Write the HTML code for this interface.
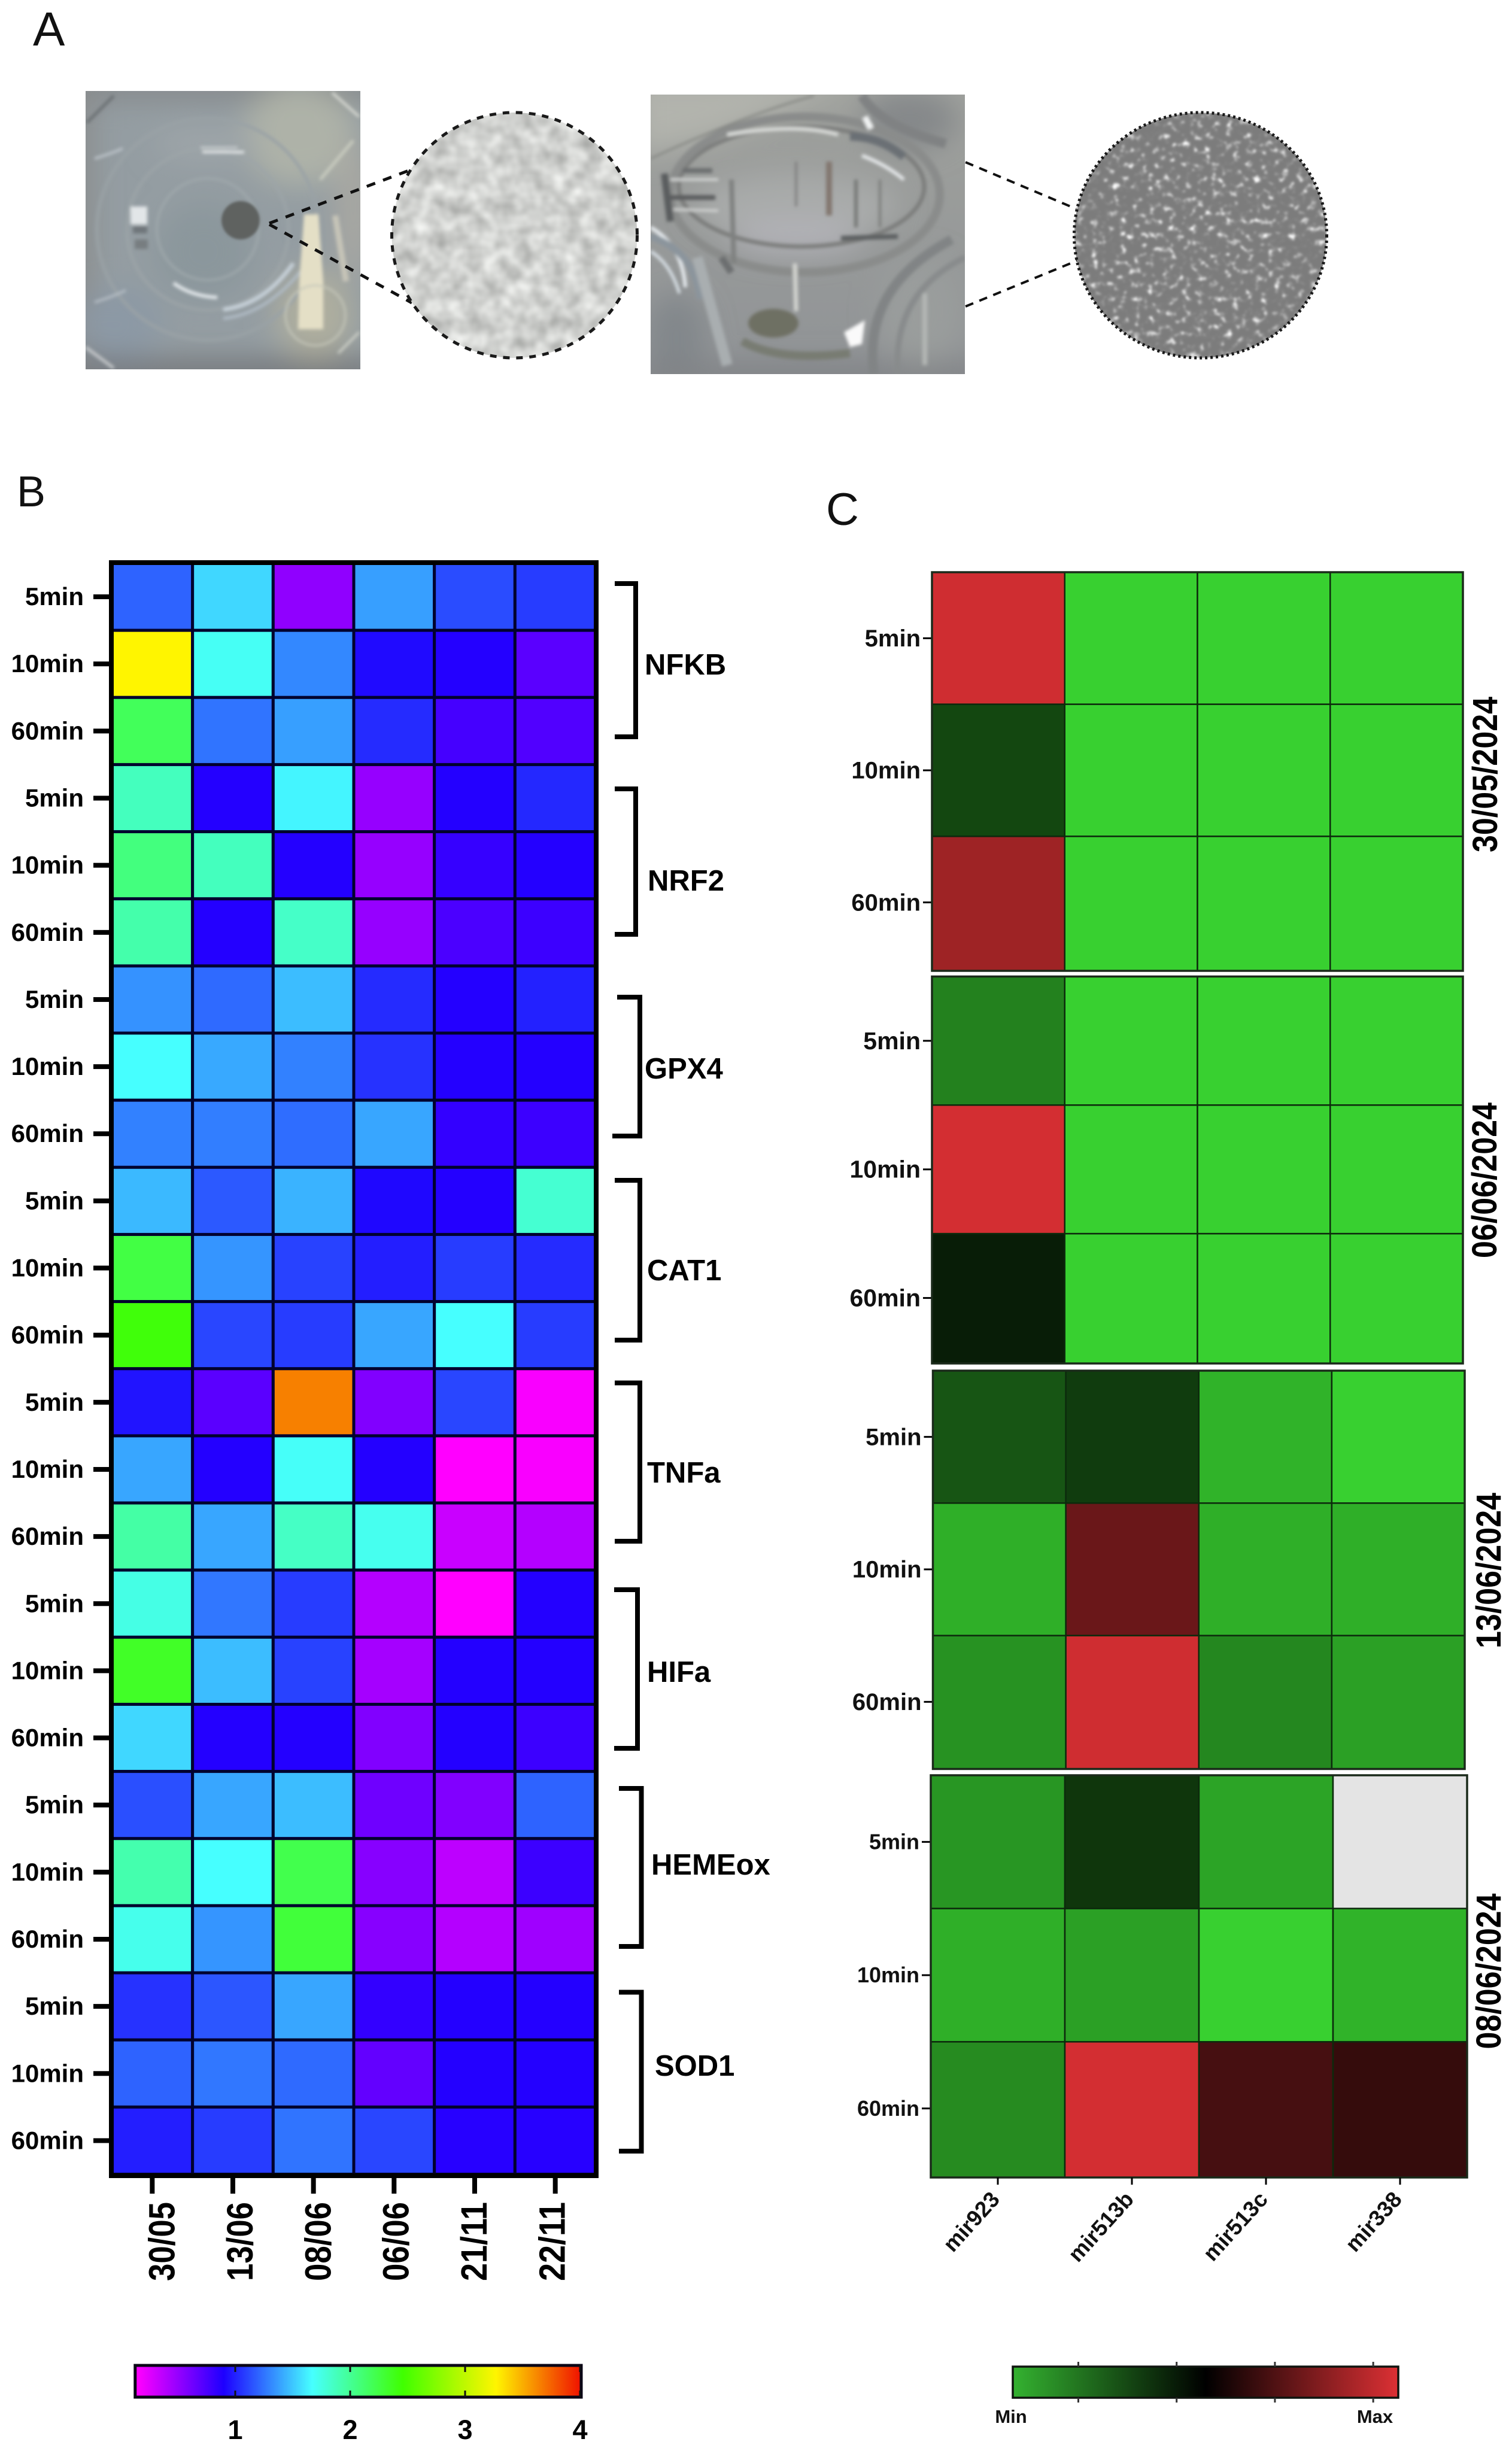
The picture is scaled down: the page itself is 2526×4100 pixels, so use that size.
<!DOCTYPE html>
<html lang="en">
<head>
<meta charset="utf-8">
<title>Panels A, B and C heatmaps</title>
<style>
html,body{margin:0;padding:0;background:#fff;}
body{width:2526px;height:4100px;overflow:hidden;}
svg{display:block;font-family:"Liberation Sans",sans-serif;}
</style>
</head>
<body>
<svg id="figure" xmlns="http://www.w3.org/2000/svg" width="2526" height="4100" viewBox="0 0 2526 4100">
<defs>
<filter id="blur25" x="-40%" y="-40%" width="180%" height="180%"><feGaussianBlur stdDeviation="24"/></filter>
<filter id="blur3" x="-10%" y="-10%" width="120%" height="120%"><feGaussianBlur stdDeviation="3"/></filter>
<filter id="blur2" x="-20%" y="-20%" width="140%" height="140%"><feGaussianBlur stdDeviation="2"/></filter>
<filter id="tex-light" x="0" y="0" width="100%" height="100%" color-interpolation-filters="sRGB">
<feTurbulence type="fractalNoise" baseFrequency="0.036" numOctaves="2" seed="7"/>
<feColorMatrix type="matrix" values="0.36 0 0 0 0.635  0.36 0 0 0 0.64  0.36 0 0 0 0.63  0 0 0 0 1"/>
<feComposite in2="SourceGraphic" operator="in"/>
</filter>
<filter id="tex-cells" x="0" y="0" width="100%" height="100%" color-interpolation-filters="sRGB">
<feTurbulence type="fractalNoise" baseFrequency="0.085" numOctaves="2" seed="11"/>
<feColorMatrix type="matrix" values="1 0 0 0 0  1 0 0 0 0  1 0 0 0 0  0 0 0 0 1"/>
<feComponentTransfer>
<feFuncR type="table" tableValues=".49 .49 .49 .49 .49 .49 .49 .5 .56 .7 .86 1 1 1"/>
<feFuncG type="table" tableValues=".49 .49 .49 .49 .49 .49 .49 .5 .56 .7 .86 1 1 1"/>
<feFuncB type="table" tableValues=".49 .49 .49 .49 .49 .49 .49 .5 .56 .7 .86 1 1 1"/>
</feComponentTransfer>
<feGaussianBlur stdDeviation="1.8"/>
<feComposite in2="SourceGraphic" operator="in"/>
</filter>
<clipPath id="clip-photo-1"><rect x="143" y="152" width="459" height="465"/></clipPath>
<clipPath id="clip-photo-2"><rect x="1087" y="158" width="525" height="467"/></clipPath>
<linearGradient id="photo2-base" x1="0" y1="0" x2="0" y2="1"><stop offset="0" stop-color="#9fa19d"/><stop offset="1" stop-color="#909396"/></linearGradient>
</defs>

<text x="55" y="76" font-size="80" fill="#111">A</text>
<text x="28" y="846" font-size="72" fill="#111">B</text>
<text x="1380" y="877" font-size="76" fill="#111">C</text>

<g clip-path="url(#clip-photo-1)">
<rect x="143" y="152" width="459" height="465" fill="#949da2"/>
<g filter="url(#blur25)">
<rect x="100" y="120" width="540" height="45" fill="#85888a"/>
<rect x="110" y="152" width="45" height="465" fill="#8a8c8c"/>
<rect x="100" y="600" width="540" height="50" fill="#74777a"/>
<ellipse cx="500" cy="225" rx="95" ry="85" fill="#aeb2a8"/>
<ellipse cx="590" cy="350" rx="30" ry="120" fill="#a9a8a2"/>
<ellipse cx="200" cy="540" rx="70" ry="60" fill="#8c99a5"/>
<ellipse cx="345" cy="240" rx="90" ry="30" fill="#9ea5a9"/>
<ellipse cx="525" cy="525" rx="65" ry="75" fill="#aeae9f"/>
<circle cx="340" cy="420" r="80" fill="#8b979c"/>
</g>
<g filter="url(#blur3)" fill="none">
<circle cx="347" cy="383" r="85" stroke="#a2abae" stroke-width="3"/>
<circle cx="347" cy="383" r="135" stroke="#9da5a8" stroke-width="4"/>
<circle cx="347" cy="383" r="185" stroke="#9aa2a6" stroke-width="5"/>
<path d="M290 473 Q320 495 363 497" stroke="#e2e7ea" stroke-width="6"/>
<path d="M373 517 Q440 510 490 440" stroke="#c6d0d8" stroke-width="7"/>
<path d="M373 532 Q445 525 505 450" stroke="#b0bbc5" stroke-width="5"/>
<polygon points="508,358 532,358 540,470 540,550 498,550 500,470" fill="#e4dfc6"/>
<path d="M560 360 L578 470" stroke="#c6c4b8" stroke-width="10"/>
<circle cx="527" cy="527" r="50" stroke="#c6c8ba" stroke-width="3"/>
<rect x="218" y="345" width="28" height="30" fill="#e2e6e8"/>
<rect x="222" y="378" width="24" height="12" fill="#6f767a"/>
<rect x="225" y="400" width="22" height="16" fill="#777d80"/>
<rect x="338" y="252" width="70" height="4" fill="#e8ebec"/>
<rect x="335" y="245" width="62" height="3" fill="#cfd4d6"/>
<path d="M145 205 L190 160" stroke="#6b7073" stroke-width="5"/>
<path d="M555 155 L600 195" stroke="#dadcd5" stroke-width="4"/>
<path d="M143 580 L190 615" stroke="#c5c8ca" stroke-width="5"/>
<path d="M565 590 L600 555" stroke="#cdd0c8" stroke-width="4"/>
<path d="M535 300 L590 235" stroke="#c9ccc0" stroke-width="5"/>
<path d="M158 265 Q190 255 205 248" stroke="#bfc6cc" stroke-width="4"/>
<path d="M158 505 Q190 495 210 485" stroke="#b6bec5" stroke-width="4"/>
</g>
<circle cx="402" cy="368" r="32" fill="#5f6261" filter="url(#blur2)"/>
</g>

<g clip-path="url(#clip-photo-2)">
<rect x="1087" y="158" width="525" height="467" fill="url(#photo2-base)"/>
<g filter="url(#blur25)">
<polygon points="1060,130 1430,130 1200,230 1060,260" fill="#b2b4ad"/>
<ellipse cx="1330" cy="345" rx="170" ry="55" fill="#a9abaa"/>
<ellipse cx="1330" cy="395" rx="110" ry="28" fill="#b2b2b8"/>
<ellipse cx="1130" cy="560" rx="50" ry="70" fill="#82878b"/>
<ellipse cx="1540" cy="520" rx="70" ry="90" fill="#9a9d9c"/>
<ellipse cx="1520" cy="200" rx="80" ry="50" fill="#85888a"/>
<rect x="1060" y="610" width="580" height="40" fill="#7f8184"/>
</g>
<g filter="url(#blur3)" fill="none">
<ellipse cx="1339" cy="312" rx="205" ry="100" stroke="#7b7d7b" stroke-width="7"/>
<ellipse cx="1345" cy="325" rx="225" ry="130" stroke="#8a8c8b" stroke-width="14"/>
<path d="M1087 265 Q1250 190 1360 160" stroke="#838581" stroke-width="3"/>
<path d="M1215 225 Q1330 205 1400 225" stroke="#dcdedb" stroke-width="6"/>
<path d="M1420 228 Q1470 228 1510 262" stroke="#6a6f75" stroke-width="14"/>
<path d="M1440 260 Q1480 275 1510 300" stroke="#e6e9eb" stroke-width="6"/>
<path d="M1120 300 L1200 300" stroke="#d8dad9" stroke-width="4"/>
<path d="M1120 330 L1195 330" stroke="#5a5c5d" stroke-width="8"/>
<path d="M1125 350 L1200 352" stroke="#d5d7d6" stroke-width="4"/>
<path d="M1110 290 L1120 370" stroke="#5a5d5f" stroke-width="12"/>
<path d="M1140 285 L1190 285" stroke="#6b6d6e" stroke-width="8"/>
<path d="M1222 300 L1226 440" stroke="#7f8180" stroke-width="8"/>
<path d="M1330 270 L1330 345" stroke="#808080" stroke-width="4"/>
<path d="M1385 270 L1385 360" stroke="#827770" stroke-width="10"/>
<path d="M1430 300 L1430 380" stroke="#767876" stroke-width="6"/>
<path d="M1470 300 L1470 380" stroke="#808280" stroke-width="5"/>
<path d="M1405 398 L1500 395" stroke="#5c5f61" stroke-width="8"/>
<path d="M1087 380 Q1140 410 1145 480" stroke="#e8edf1" stroke-width="6"/>
<path d="M1087 420 Q1120 440 1135 490" stroke="#dae2e8" stroke-width="5"/>
<path d="M1087 395 Q1160 420 1170 500" stroke="#8b949c" stroke-width="12"/>
<path d="M1165 430 L1215 610" stroke="#a9aeb0" stroke-width="18"/>
<path d="M1205 430 L1222 455" stroke="#6c6e6f" stroke-width="12"/>
<path d="M1328 440 L1330 520" stroke="#d4d6d1" stroke-width="7"/>
<path d="M1460 625 Q1440 480 1590 400" stroke="#818485" stroke-width="16"/>
<path d="M1500 625 Q1490 490 1612 430" stroke="#888b8c" stroke-width="10"/>
<path d="M1545 610 L1545 490" stroke="#b4b7b5" stroke-width="8"/>
<path d="M1440 160 Q1470 210 1580 240" stroke="#808283" stroke-width="16"/>
<path d="M1445 195 L1455 215" stroke="#f2f4f4" stroke-width="10"/>
<polygon points="1410,555 1445,535 1440,575 1420,580" fill="#fafafa"/>
<path d="M1240 570 Q1300 605 1420 590" stroke="#787b72" stroke-width="14"/>
<ellipse cx="1292" cy="540" rx="42" ry="24" fill="#6e7064"/>
</g>
</g>

<line x1="450" y1="373" x2="688" y2="283" stroke="#111" stroke-width="5" stroke-dasharray="15 14"/>
<line x1="450" y1="375" x2="688" y2="506" stroke="#111" stroke-width="5" stroke-dasharray="15 14"/>
<line x1="1613" y1="271" x2="1798" y2="349" stroke="#111" stroke-width="4" stroke-dasharray="14 11"/>
<line x1="1613" y1="512" x2="1803" y2="434" stroke="#111" stroke-width="4" stroke-dasharray="14 11"/>

<g>
<circle cx="859.5" cy="393" r="205" fill="#000" filter="url(#tex-light)"/>
<circle cx="859.5" cy="393" r="205" fill="none" stroke="#1a1a1a" stroke-width="5" stroke-dasharray="11 11"/>
</g>
<g>
<ellipse cx="2005.5" cy="393" rx="211" ry="205" fill="#000" filter="url(#tex-cells)"/>
<ellipse cx="2005.5" cy="393" rx="211" ry="205" fill="none" stroke="#1a1a1a" stroke-width="5" stroke-dasharray="4 5"/>
</g>

<g id="panel-b"></g>
<g id="panel-b-frame-layer"></g>

<g fill="none" stroke="#000" stroke-width="8" font-weight="bold">
<path d="M1027 975 H1062 V1231 H1027"/>
<path d="M1027 1318 H1062 V1561 H1027"/>
<path d="M1031 1666 H1069 V1898 H1023"/>
<path d="M1027 1972 H1069 V2239 H1027"/>
<path d="M1027 2310.5 H1069 V2575 H1027"/>
<path d="M1026 2656 H1065 V2921 H1026"/>
<path d="M1034 2988 H1071.5 V3252 H1034"/>
<path d="M1034 3328.5 H1071.5 V3594 H1034"/>
</g>
<g font-size="49" font-weight="bold" fill="#000">
<text x="1077" y="1127">NFKB</text>
<text x="1082" y="1488">NRF2</text>
<text x="1077" y="1802">GPX4</text>
<text x="1081" y="2139">CAT1</text>
<text x="1081" y="2477">TNFa</text>
<text x="1081" y="2810">HIFa</text>
<text x="1088" y="3132">HEMEox</text>
<text x="1094" y="3468">SOD1</text>
</g>

<g id="panel-b-colorbar"></g>
<g id="panel-c"></g>
<g id="panel-c-colorbar"></g>
</svg>

<script>
// ---- Panel B data ----
const timeLabels = ['5min', '10min', '60min'];
const dateLabels = ['30/05', '13/06', '08/06', '06/06', '21/11', '22/11'];
const nfkbValues = [[1.20, 1.55, 0.52, 1.38, 1.13, 1.08], [3.27, 1.70, 1.31, 0.93, 0.88, 0.70], [2.18, 1.25, 1.38, 1.03, 0.77, 0.73]];
const nrf2Values = [[1.87, 0.88, 1.64, 0.50, 0.88, 1.02], [2.07, 1.87, 0.88, 0.50, 0.82, 0.88], [1.93, 0.88, 1.84, 0.50, 0.75, 0.80]];
const gpx4Values = [[1.34, 1.22, 1.47, 1.03, 0.88, 1.00], [1.67, 1.41, 1.29, 1.05, 0.88, 0.88], [1.29, 1.28, 1.23, 1.40, 0.83, 0.80]];
const cat1Values = [[1.46, 1.17, 1.44, 0.92, 0.88, 1.81], [2.25, 1.35, 1.10, 0.99, 1.08, 1.03], [2.43, 1.11, 1.08, 1.40, 1.67, 1.08]];
const tnfaValues = [[0.96, 0.70, 3.65, 0.57, 1.11, 0.17], [1.40, 0.88, 1.69, 0.88, 0.15, 0.17], [1.95, 1.40, 1.85, 1.72, 0.33, 0.40]];
const hifaValues = [[1.75, 1.26, 1.08, 0.40, 0.15, 0.88], [2.34, 1.47, 1.10, 0.45, 0.88, 0.88], [1.55, 0.88, 0.88, 0.57, 0.88, 0.80]];
const hemeoxValues = [[1.14, 1.40, 1.47, 0.63, 0.57, 1.20], [1.92, 1.67, 2.22, 0.55, 0.37, 0.80], [1.73, 1.35, 2.28, 0.55, 0.40, 0.47]];
const sod1Values = [[1.05, 1.16, 1.40, 0.83, 0.88, 0.88], [1.20, 1.26, 1.22, 0.67, 0.88, 0.88], [0.99, 1.08, 1.25, 1.11, 0.87, 0.87]];
const foldChangeTicks = [1, 2, 3, 4];

// ---- Panel C data ----
const mirLabels = ['mir923', 'mir513b', 'mir513c', 'mir338'];
const experiment3005Values = [[0.97, 0, 0, 0], [0.33, 0, 0, 0], [0.86, 0, 0, 0]];
const experiment0606Values = [[0.19, 0, 0, 0], [0.98, 0, 0, 0], [0.43, 0, 0, 0]];
const experiment1306Values = [[0.295, 0.355, 0.07, 0], [0.08, 0.74, 0.08, 0.08], [0.15, 0.97, 0.175, 0.115]];
const experiment0806Values = [[0.14, 0.37, 0.105, null], [0.08, 0.115, 0, 0.07], [0.165, 0.98, 0.66, 0.62]];

const NS = 'http://www.w3.org/2000/svg';
function mk(parent, tag, attrs, text) {
  const el = document.createElementNS(NS, tag);
  for (const k in attrs) el.setAttribute(k, attrs[k]);
  if (text !== undefined) el.textContent = text;
  parent.appendChild(el);
  return el;
}
function ramp(stops, v) {
  if (v <= stops[0][0]) return 'rgb(' + stops[0].slice(1).join(',') + ')';
  for (let i = 1; i < stops.length; i++) {
    if (v <= stops[i][0]) {
      const a = stops[i - 1], b = stops[i], t = (v - a[0]) / (b[0] - a[0]);
      return 'rgb(' + [1, 2, 3].map(function (c) { return Math.round(a[c] + (b[c] - a[c]) * t); }).join(',') + ')';
    }
  }
  return 'rgb(' + stops[stops.length - 1].slice(1).join(',') + ')';
}
const rainbowScale = [[0.15, 255, 0, 255], [0.9, 30, 0, 255], [1.67, 70, 255, 255], [2.46, 64, 255, 0], [3.27, 255, 245, 0], [4, 240, 20, 0]];
const greenRedScale = [[0, 56, 208, 48], [0.5, 0, 0, 0], [1, 220, 48, 52]];

// ---- Panel B heatmap ----
const panelB = document.getElementById('panel-b');
const geneMatrices = [nfkbValues, nrf2Values, gpx4Values, cat1Values, tnfaValues, hifaValues, hemeoxValues, sod1Values];
const bLeft = 187, bRight = 995, bTop = 941, bBottom = 3632.5;
const bRowCount = geneMatrices.length * timeLabels.length;
const bX = function (c) { return bLeft + c * (bRight - bLeft) / dateLabels.length; };
const bY = function (r) { return bTop + r * (bBottom - bTop) / bRowCount; };
const bDateLabelX = function (c) { return 291.5 + c * 130.4; };

geneMatrices.forEach(function (matrix, g) {
  matrix.forEach(function (row, t) {
    const r = g * timeLabels.length + t;
    row.forEach(function (v, c) {
      const cell = mk(panelB, 'rect', { x: bX(c), y: bY(r), width: bX(c + 1) - bX(c), height: bY(r + 1) - bY(r), fill: ramp(rainbowScale, v), stroke: '#02022e', 'stroke-width': 5 });
      
      
    });
    const yc = bY(r + 0.5);
    const tick = mk(panelB, 'rect', { x: 156, y: yc - 4, width: 28, height: 8, fill: '#000' });
    
    
    const label = mk(panelB, 'text', { x: 140, y: yc + 14, 'text-anchor': 'end', 'font-size': 42, 'font-weight': 'bold', fill: '#000' }, timeLabels[t]);
    
    
  });
});
dateLabels.forEach(function (d, c) {
  const xc = bX(c + 0.5);
  const tick = mk(panelB, 'rect', { x: xc - 4, y: 3638, width: 8, height: 27, fill: '#000' });
  
  
  const bx = bDateLabelX(c);
  const label = mk(panelB, 'text', { x: bx, y: 3811, 'font-size': 61, 'font-weight': 'bold', fill: '#000', textLength: 132, lengthAdjust: 'spacingAndGlyphs', transform: 'rotate(-90 ' + bx + ' 3811)' }, d);
  
  
});
const frameLayer = document.getElementById('panel-b-frame-layer');
const bFrame = mk(frameLayer, 'rect', { x: 186, y: 940, width: 810, height: 2695, fill: 'none' });
bFrame.setAttribute('stroke', '#000');
bFrame.setAttribute('stroke-width', 8);



// ---- Panel B colour bar ----
const defs = document.querySelector('defs');
const cbB = document.getElementById('panel-b-colorbar');
const cbX = function (v) { return 393 + (v - 1) * 192; };
const gradB = mk(defs, 'linearGradient', { id: 'rainbow-gradient', gradientUnits: 'userSpaceOnUse', x1: cbX(0.15), x2: cbX(4), y1: 0, y2: 0 });
rainbowScale.forEach(function (s) {
  mk(gradB, 'stop', { offset: (s[0] - 0.15) / 3.85, 'stop-color': 'rgb(' + s.slice(1).join(',') + ')' });
});
const barB = mk(cbB, 'rect', { x: cbX(0.15) - 4, y: 3952, width: cbX(4) - cbX(0.15) + 6, height: 53, fill: 'url(#rainbow-gradient)', stroke: '#0a0616', 'stroke-width': 5 });


foldChangeTicks.forEach(function (v) {
  const x = cbX(v);
  const t1 = mk(cbB, 'rect', { x: x - 1.5, y: 3952, width: 3, height: 11, fill: '#111' });
  
  
  const t2 = mk(cbB, 'rect', { x: x - 1.5, y: 3994, width: 3, height: 11, fill: '#111' });
  
  
  const lab = mk(cbB, 'text', { x: x, y: 4075, 'text-anchor': 'middle', 'font-size': 45, 'font-weight': 'bold', fill: '#000' }, String(v));
  
  
});

// ---- Panel C heatmaps ----
const panelC = document.getElementById('panel-c');
function drawGroup(groupName, matrix, left, right, top, gridBottom, bottom, fontSize, dateText, dateX, dateBottom) {
  const g = mk(panelC, 'g', {});
  
  
  const x = function (c) { return left + c * (right - left) / mirLabels.length; };
  const y = function (r) { return top + r * (gridBottom - top) / timeLabels.length; };
  matrix.forEach(function (row, r) {
    row.forEach(function (v, c) {
      const cellBottom = r === matrix.length - 1 ? bottom : y(r + 1);
      const cell = mk(g, 'rect', { x: x(c), y: y(r), width: x(c + 1) - x(c), height: cellBottom - y(r), fill: v === null ? '#e4e4e4' : ramp(greenRedScale, v), stroke: '#0c2a0c', 'stroke-width': 2.5 });
      
      
    });
    const yc = y(r + 0.5);
    const tick = mk(g, 'rect', { x: left - 15, y: yc - 1.5, width: 15, height: 3, fill: '#000' });
    
    
    const label = mk(g, 'text', { x: left - 19, y: yc + fontSize * 0.34, 'text-anchor': 'end', 'font-size': fontSize, 'font-weight': 'bold', fill: '#111' }, timeLabels[r]);
    
    
  });
  const frame = mk(g, 'rect', { x: left, y: top, width: right - left, height: bottom - top, fill: 'none', stroke: '#1a2a1a', 'stroke-width': 3.5 });
  
  
  const dt = mk(g, 'text', { x: dateX, y: dateBottom, 'font-size': 58, 'font-weight': 'bold', fill: '#000', textLength: 260, lengthAdjust: 'spacingAndGlyphs', transform: 'rotate(-90 ' + dateX + ' ' + dateBottom + ')' }, dateText);
  
  
  return x;
}
drawGroup('experiment-30-05-2024', experiment3005Values, 1557, 2444, 956, 1618, 1622, 40, '30/05/2024', 2501, 1424);
drawGroup('experiment-06-06-2024', experiment0606Values, 1557, 2444, 1631.5, 2276, 2278, 41, '06/06/2024', 2500, 2102);
drawGroup('experiment-13-06-2024', experiment1306Values, 1558.5, 2447, 2290, 2954, 2955.5, 40, '13/06/2024', 2507, 2754);
const lastX = drawGroup('experiment-08-06-2024', experiment0806Values, 1555, 2451, 2966, 3634, 3638, 36, '08/06/2024', 2507, 3423.5);
mirLabels.forEach(function (m, c) {
  const xc = lastX(c + 0.5);
  const tick = mk(panelC, 'rect', { x: xc - 1.5, y: 3638, width: 3, height: 12, fill: '#000' });
  
  
  const ax = xc + 5, ay = 3676;
  const label = mk(panelC, 'text', { x: ax, y: ay, 'text-anchor': 'end', 'font-size': 37, 'font-weight': 'bold', fill: '#111', transform: 'rotate(-48 ' + ax + ' ' + ay + ')' }, m);
  
  
});

// ---- Panel C colour bar ----
const cbC = document.getElementById('panel-c-colorbar');
const gradC = mk(defs, 'linearGradient', { id: 'green-red-gradient', x1: 0, x2: 1, y1: 0, y2: 0 });
const colorbarStart = mk(gradC, 'stop', { offset: 0, 'stop-color': 'rgb(52,178,48)' });
greenRedScale.slice(1).forEach(function (s) {
  mk(gradC, 'stop', { offset: s[0], 'stop-color': 'rgb(' + s.slice(1).join(',') + ')' });
});
const cX = function (v) { return 1692 + v * 644; };
const barC = mk(cbC, 'rect', { x: cX(0), y: 3954, width: cX(1) - cX(0), height: 52, fill: 'url(#green-red-gradient)', stroke: '#0f140f', 'stroke-width': 3.5 });


const colorTicks = [0.17, 0.425, 0.68, 0.935];
colorTicks.forEach(function (v) {
  const t1 = mk(cbC, 'rect', { x: cX(v) - 1.5, y: 3946, width: 3, height: 8, fill: '#333' });
  
  
  const t2 = mk(cbC, 'rect', { x: cX(v) - 1.5, y: 4006, width: 3, height: 8, fill: '#333' });
  
  
});
const minLabel = mk(cbC, 'text', { x: 1689, y: 4048, 'text-anchor': 'middle', 'font-size': 31, 'font-weight': 'bold', fill: '#111' }, 'Min');


const maxLabel = mk(cbC, 'text', { x: 2297, y: 4048, 'text-anchor': 'middle', 'font-size': 31, 'font-weight': 'bold', fill: '#111' }, 'Max');


</script>
</body>
</html>
